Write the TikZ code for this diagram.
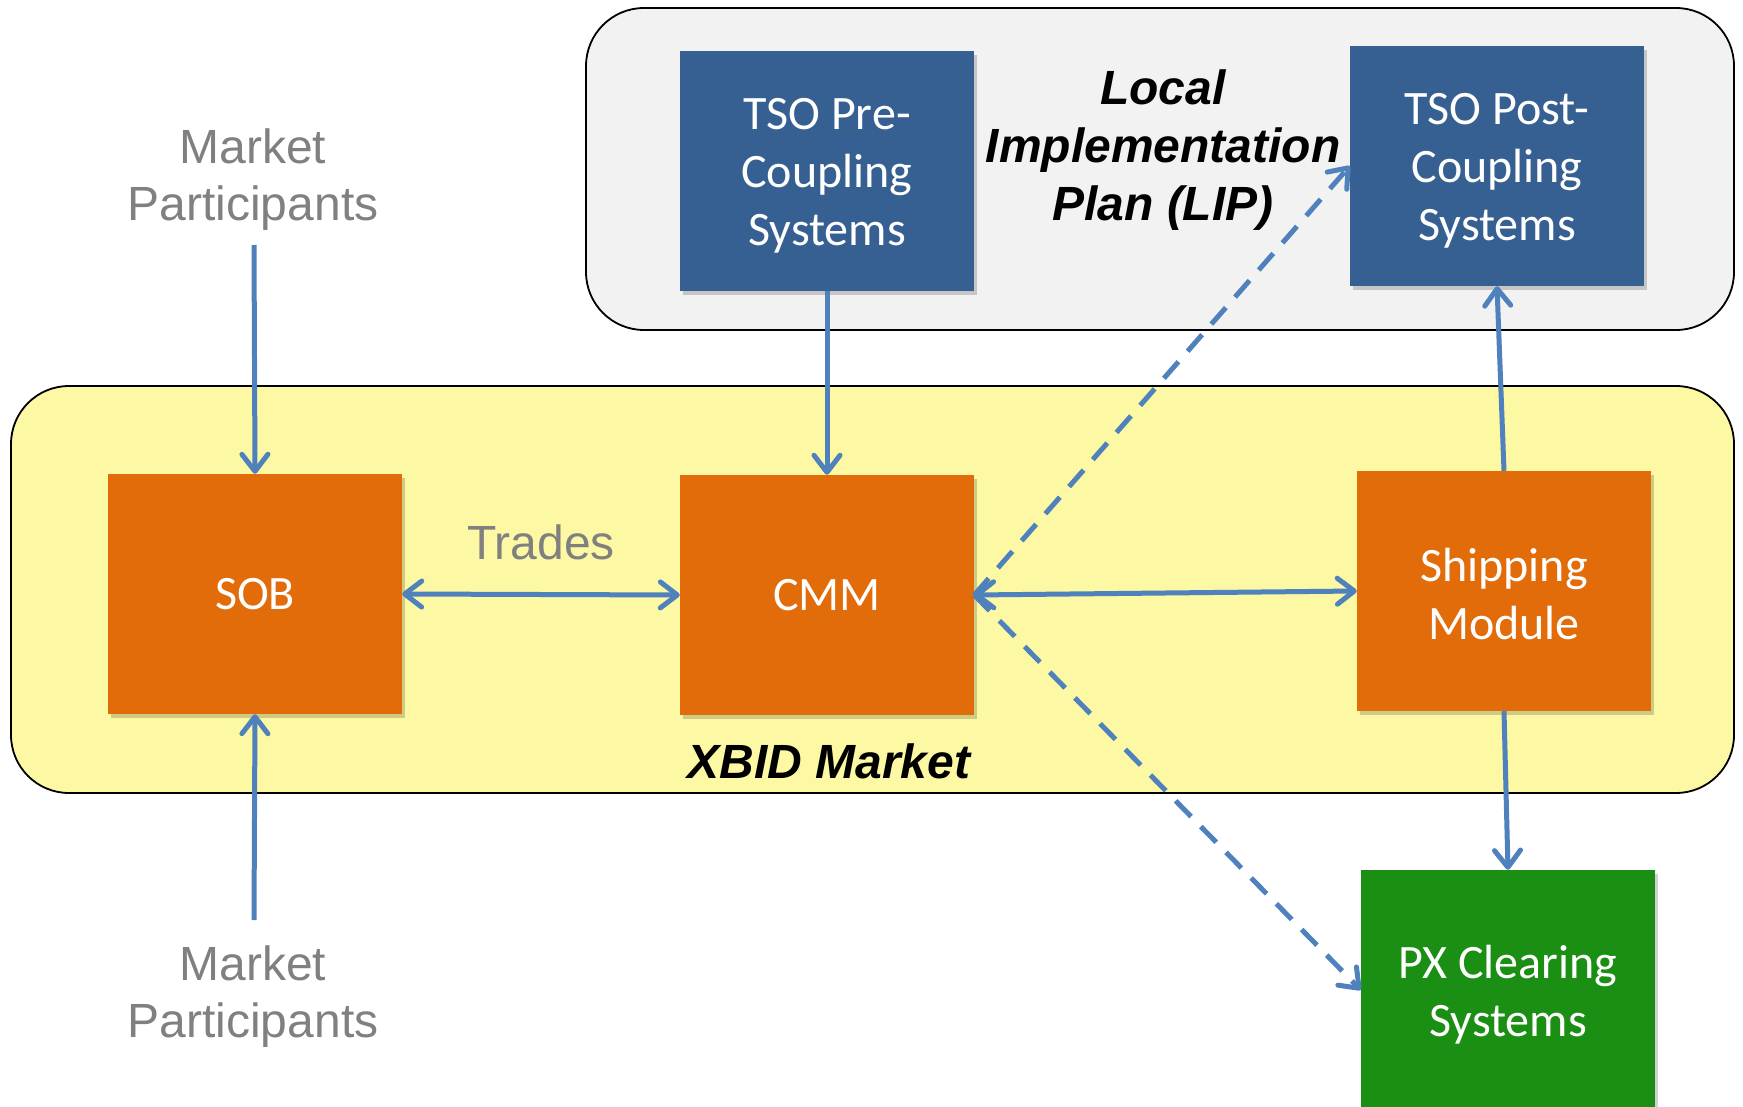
\documentclass[tikz,border=0pt]{standalone}
\usepackage{fontspec}
\setmainfont{Carlito}
\newfontfamily\arialf{Liberation Sans}
\usetikzlibrary{arrows.meta,shadows}
\definecolor{tsoblue}{HTML}{376092}
\definecolor{xorange}{HTML}{E36C0A}
\definecolor{pxgreen}{HTML}{1A8F13}
\definecolor{xyellow}{HTML}{FCF8A3}
\definecolor{lipgray}{HTML}{F2F2F2}
\definecolor{arrblue}{HTML}{4F81BD}
\definecolor{txtgray}{HTML}{808080}
\begin{document}
\begin{tikzpicture}[x=1pt,y=-1pt,
  sysbox/.style={rectangle, minimum width=294pt, minimum height=240pt, inner sep=0pt,
    drop shadow={shadow xshift=3pt,shadow yshift=-4pt,opacity=0.18,fill=black}},
  boxtext/.style={text=white, align=center, inner sep=0pt, font=\fontsize{48}{58}\selectfont},
  container/.style={draw=black, line width=1.8pt, rounded corners=58pt},
  graylabel/.style={text=txtgray, align=center, font=\arialf\fontsize{48}{57}\selectfont, inner sep=0pt},
  titlelabel/.style={text=black, align=center, font=\arialf\bfseries\itshape\fontsize{48}{58}\selectfont, inner sep=0pt},
  tip/.style={Straight Barb[length=17pt,width=26pt,round]},
  conn/.style={draw=arrblue, line width=5pt, -{Straight Barb[length=17pt,width=26pt,round]}},
  biconn/.style={draw=arrblue, line width=5pt, {Straight Barb[length=17pt,width=26pt,round]}-{Straight Barb[length=17pt,width=26pt,round]}},
  dashconn/.style={conn, dash pattern=on 22pt off 14pt}
]
\useasboundingbox (0,0) rectangle (1743,1107);
\fill[white] (0,0) rectangle (1743,1107);

% containers
\draw[container, fill=lipgray] (586,8) rectangle (1734,330);
\draw[container, fill=xyellow] (11,386) rectangle (1734,793);

% boxes
\node[sysbox, fill=tsoblue, label={[boxtext, yshift=-5pt]center:{TSO Pre-\\Coupling\\Systems}}] (pre) at (827,171) {};
\node[sysbox, fill=tsoblue, label={[boxtext, yshift=-5pt]center:{TSO Post-\\Coupling\\Systems}}] (post) at (1497,166) {};
\node[sysbox, fill=xorange, label={[boxtext]center:{SOB}}] (sob) at (255,594) {};
\node[sysbox, fill=xorange, label={[boxtext]center:{CMM}}] (cmm) at (827,595) {};
\node[sysbox, fill=xorange, label={[boxtext, yshift=-3pt]center:{Shipping\\Module}}] (ship) at (1504,591) {};
\node[sysbox, fill=pxgreen, label={[boxtext, yshift=-5pt]center:{PX Clearing\\Systems}}] (px) at (1508,990) {};

% labels
\node[titlelabel] (lip) at (1163,150) {Local\\Implementation\\Plan (LIP)};
\node[titlelabel] (xbid) at (829,761) {XBID Market};
\node[graylabel] (mptop) at (253,180) {Market\\Participants};
\node[graylabel] (mpbot) at (253,997) {Market\\Participants};
\node[graylabel] (trades) at (541,542) {Trades};

\coordinate (mptopend) at (254,245);
\coordinate (mpbotend) at (254,920);

% connectors
\draw[conn] (mptopend) -- (sob.north);
\draw[conn] (mpbotend) -- (sob.south);
\draw[biconn] (sob.east) -- (cmm.west);
\draw[biconn] (cmm.east) -- (ship.west);
\draw[conn] (pre.south) -- (cmm.north);
\draw[conn] (ship.north) -- (post.south);
\draw[conn] (ship.south) -- (px.north);
\draw[dashconn] (cmm.east) -- (post.west);
\draw[dashconn] (cmm.east) -- (px.west);
\end{tikzpicture}
\end{document}
